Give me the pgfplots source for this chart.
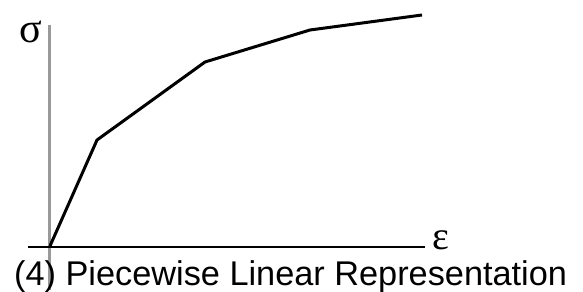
\documentclass[border=0pt]{standalone}
\usepackage{pgfplots}
\pgfplotsset{compat=1.18}
\usepackage{fontspec}
\setmainfont{Liberation Sans}
\newfontfamily\grk{Liberation Serif}
\begin{document}
\begin{tikzpicture}
\useasboundingbox (0,0) rectangle (583bp,292bp);
\begin{axis}[
  at={(0,0)}, anchor=south west,
  scale only axis, width=583bp, height=292bp,
  xmin=0, xmax=583, ymin=0, ymax=292,
  hide axis, clip=false,
]
\addplot[color=gray!80, line width=2.5bp] coordinates {(49.5,267) (49.5,2)};
\addplot[color=black, line width=1.3bp] coordinates {(28,45) (425,45)};
\addplot[color=black, line width=3bp, line join=miter] coordinates {(50,46) (97,152) (205,230) (310,262) (422,277)};
\node[anchor=base west, inner sep=0pt] at (axis cs:19,249) {\fontsize{42bp}{42bp}\selectfont\grk σ};
\node[anchor=base west, inner sep=0pt] at (axis cs:432,42) {\fontsize{40bp}{40bp}\selectfont\grk ε};
\node[anchor=base west, inner sep=0pt] at (axis cs:14,6.5) {\fontsize{34.3bp}{36bp}\selectfont (4) Piecewise Linear Representation};
\end{axis}
\end{tikzpicture}
\end{document}
